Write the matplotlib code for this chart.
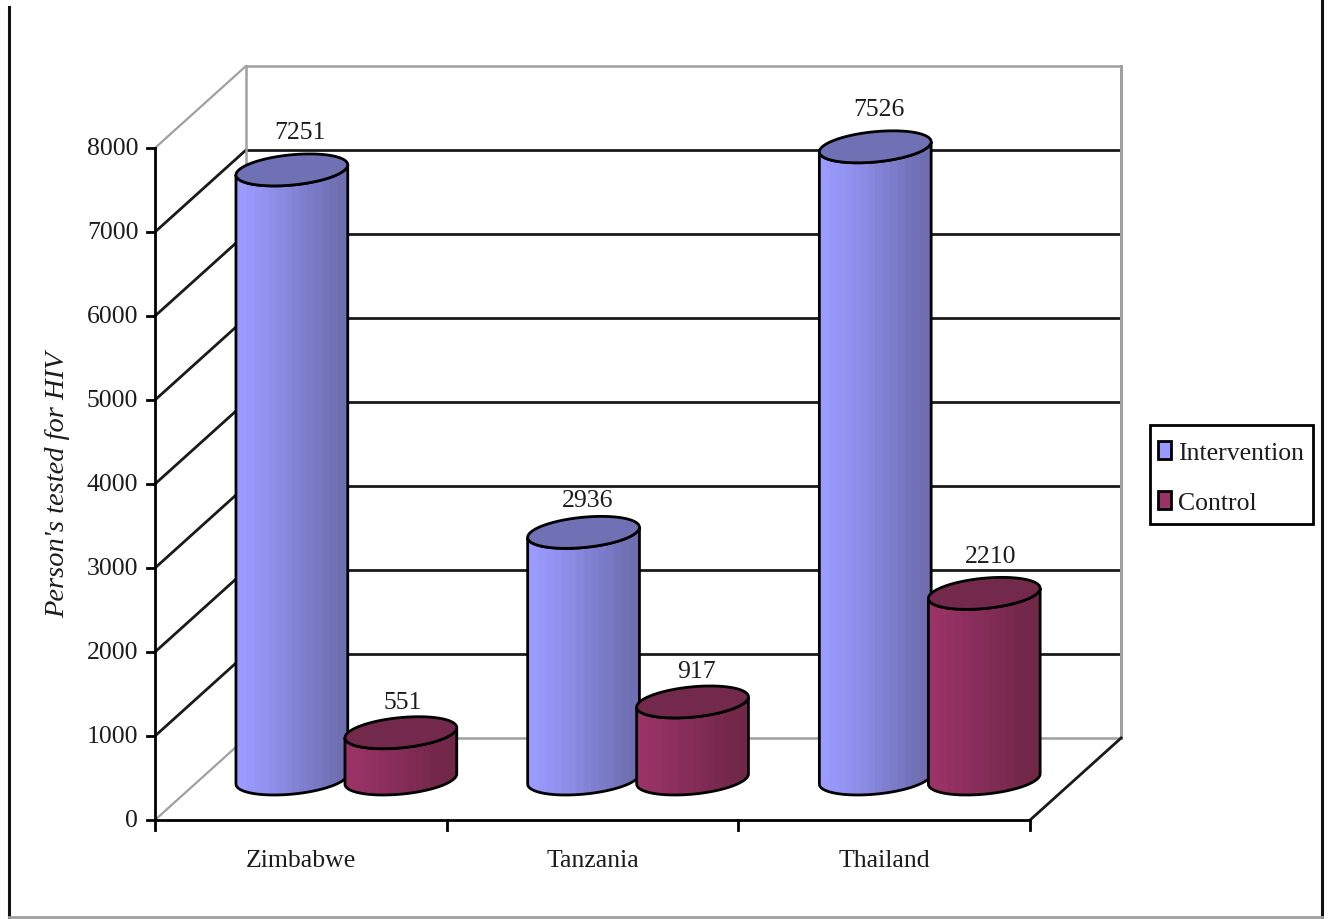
'''
3D-style cylinder chart of persons tested for HIV, drawn on a flat axes.
'''
import numpy as np
import matplotlib
matplotlib.use('Agg')
import matplotlib.pyplot as plt
from matplotlib.colors import LinearSegmentedColormap
from matplotlib.lines import Line2D
from matplotlib.patches import Patch, PathPatch, Rectangle
from matplotlib.path import Path

countries = ['Zimbabwe', 'Tanzania', 'Thailand']
series_names = ['Intervention', 'Control']
intervention = [7251, 2936, 7526]
control = [551, 917, 2210]
y_ticks = [0, 1000, 2000, 3000, 4000, 5000, 6000, 7000, 8000]

W, H = 1329, 920
# pixels of one category and of one value unit, front plane origin
PX_CAT = 291.7
PX_VAL = 0.084
X0, Y0 = 155, 821
# oblique depth of the box
DEPTH_X = 91 / PX_CAT
DEPTH_Y = 82 / PX_VAL
# cylinder shape
OFFSET = 54.5 / PX_CAT
RADIUS = 53 / PX_CAT
RADIUS_D = 0.195

# nudge of the value labels in points, they don't sit evenly in the original
offsets_a = [(6, 27), (3, 23.5), (3, 27)]
offsets_b = [(1, 22), (3, 22), (4.5, 27)]

TEXT = '#1c1c1c'
GRID = '#1a1a1a'
WALL = '#a0a0a0'
LW = 2.0

plt.rcParams['font.family'] = ['Liberation Serif', 'DejaVu Serif']
plt.rcParams['font.size'] = 18.5

fig = plt.figure(figsize=(W / 100, H / 100), dpi=100, facecolor='white')
ax = fig.add_axes([0, 0, 1, 1])
xlim = (-X0 / PX_CAT, (W - X0) / PX_CAT)
ylim = ((Y0 - H) / PX_VAL, Y0 / PX_VAL)
ax.axis('off')


def depth(x, y, d):
    # front plane point moved d of the way to the back wall
    return x + d * DEPTH_X, y + d * DEPTH_Y


def ring(cx, y, t):
    # floor circle seen in the oblique projection
    return cx + RADIUS * np.cos(t) + RADIUS_D * np.sin(t) * DEPTH_X, y + RADIUS_D * np.sin(t) * DEPTH_Y


def cylinder(cx, value, colors, top_color, z, label_offset):
    base = depth(cx, 0, 0.5)
    top = depth(cx, value, 0.5)
    t_right = np.arctan2(RADIUS_D * DEPTH_X, RADIUS)
    t = np.linspace(t_right + np.pi, t_right + 2 * np.pi, 60)
    bx, by = ring(base[0], base[1], t)
    tx, ty = ring(top[0], top[1], t[::-1])
    xs = np.r_[bx, tx]
    ys = np.r_[by, ty]
    cmap = LinearSegmentedColormap.from_list('side', colors, N=14)
    img = ax.imshow(
        np.linspace(0, 1, 14)[None, :], cmap=cmap, aspect='auto',
        extent=(xs.min(), xs.max(), ys.min(), ys.max()),
        interpolation='bilinear', zorder=z
    )
    outline = PathPatch(
        Path(np.vstack([np.c_[xs, ys], [xs[0], ys[0]]])),
        facecolor='none', edgecolor='black', linewidth=LW, zorder=z + 0.2
    )
    ax.add_patch(outline)
    img.set_clip_path(outline)
    t_full = np.linspace(0, 2 * np.pi, 120)
    ex, ey = ring(top[0], top[1], t_full)
    ax.fill(ex, ey, facecolor=top_color, edgecolor='black', linewidth=LW, zorder=z + 0.3)
    # value label above the cylinder
    ax.annotate(
        str(value), (top[0], top[1]), xytext=label_offset, textcoords='offset points',
        ha='center', va='center', color=TEXT, zorder=z + 0.4
    )


# walls and gridlines
for v in y_ticks:
    col = WALL if v in (0, y_ticks[-1]) else GRID
    bx, by = depth(0, v, 1)
    ex, ey = depth(len(countries), v, 1)
    ax.plot([0, bx], [v, by], color=col, lw=LW if col == GRID else 1.6, zorder=1)
    ax.plot([bx, ex], [by, ey], color=col, lw=LW if col == GRID else 1.8, zorder=1)
    ax.plot([-8 / PX_CAT, 0], [v, v], color='black', lw=LW, zorder=2)
    ax.annotate(
        str(v), (0, v), xytext=(-12, 0), textcoords='offset points',
        ha='right', va='center', color=TEXT
    )

bx, by = depth(0, 0, 1)
ax.plot([bx, bx], [by, by + y_ticks[-1]], color=WALL, lw=1.8, zorder=1)
bx, by = depth(len(countries), 0, 1)
ax.plot([bx, bx], [by, by + y_ticks[-1]], color=WALL, lw=2.2, zorder=1)

# front of the floor
ax.plot([0, len(countries)], [0, 0], color='black', lw=LW, zorder=2)
ax.plot([0, 0], [0, y_ticks[-1]], color='black', lw=LW, zorder=2)
ax.plot([len(countries), bx], [0, by], color=GRID, lw=LW, zorder=2)
for i in range(len(countries) + 1):
    ax.plot([i, i], [0, -120], color='black', lw=LW, zorder=2)

for i, name in enumerate(countries):
    ax.annotate(
        name, (i + 0.5, 0), xytext=(0, -28.5), textcoords='offset points',
        ha='center', va='center', color=TEXT
    )

side_a = ['#9a9aff', '#8e8ee8', '#7d7dcc', '#6e6eb0']
side_b = ['#993366', '#8c2f5e', '#7e2b52', '#702748']
for i in range(len(countries)):
    cylinder(i + 0.5 - OFFSET, intervention[i], side_a, '#7070b4', 10 + 2 * i, offsets_a[i])
    cylinder(i + 0.5 + OFFSET, control[i], side_b, '#72294c', 11 + 2 * i, offsets_b[i])

ax.set_xlim(xlim)
ax.set_ylim(ylim)

ax.text(
    58 / W, 1 - 485 / H, "Person's tested for HIV", transform=ax.transAxes,
    rotation=90, ha='center', va='center', style='italic', color=TEXT, fontsize=20.5
)

# legend box is drawn by hand, legend pads are the same in both directions
ax.add_patch(Rectangle(
    (1150 / W, 1 - 525 / H), 163 / W, 99 / H, transform=ax.transAxes,
    facecolor='white', edgecolor='black', linewidth=LW, zorder=29
))
handles = [
    Patch(facecolor='#9999ff', edgecolor='black', linewidth=LW),
    Patch(facecolor='#993366', edgecolor='black', linewidth=LW),
]
leg = ax.legend(
    handles, series_names, loc='upper left',
    bbox_to_anchor=(1158 / W, 1 - 442 / H), bbox_transform=ax.transAxes,
    frameon=False, handlelength=0.5, handleheight=0.7, handletextpad=0.27,
    labelspacing=1.05, borderpad=0, borderaxespad=0, labelcolor=TEXT
)
leg.set_zorder(30)

# border of the pasted picture
fig.add_artist(Line2D([9 / W, 9 / W], [1 - 8 / H, 1 - 918 / H], color='#111111', lw=2.2))
fig.add_artist(Line2D([1322 / W, 1322 / W], [1, 1 - 918 / H], color='#111111', lw=2.2))
fig.add_artist(Line2D([9 / W, 1322 / W], [1 - 918 / H, 1 - 918 / H], color='#a0a0a0', lw=2))

fig.savefig('out.png', dpi=100)
